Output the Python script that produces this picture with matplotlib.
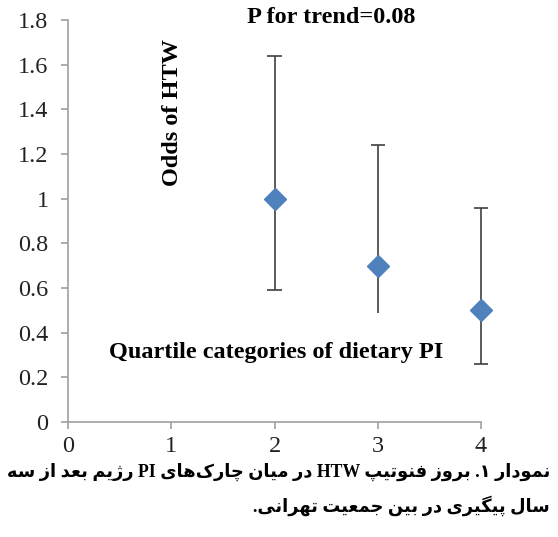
import matplotlib
matplotlib.use('Agg')
import matplotlib.pyplot as plt

# Data
quartiles = [2, 3, 4]
odds = [1.0, 0.7, 0.5]
ci_low = [0.59, 0.49, 0.26]
ci_high = [1.64, 1.24, 0.96]
x_ticks = [0, 1, 2, 3, 4]
y_ticks = [0, 0.2, 0.4, 0.6, 0.8, 1, 1.2, 1.4, 1.6, 1.8]
y_tick_labels = ['0', '0.2', '0.4', '0.6', '0.8', '1', '1.2', '1.4', '1.6', '1.8']

caption_lines = [
    'نمودار ۱. بروز فنوتیپ HTW در میان چارک‌های PI رژیم بعد از سه',
    'سال پیگیری در بین جمعیت تهرانی.',
]

# minimal Persian shaping (presentation forms) + right-to-left ordering
FORMS = {
    'ا': 'ﺍﺎ', 'د': 'ﺩﺪ', 'ر': 'ﺭﺮ', 'ز': 'ﺯﺰ', 'ژ': 'ﮊﮋ', 'و': 'ﻭﻮ',
    'ب': 'ﺏﺐﺑﺒ', 'پ': 'ﭖﭗﭘﭙ', 'ت': 'ﺕﺖﺗﺘ', 'ج': 'ﺝﺞﺟﺠ',
    'چ': 'ﭺﭻﭼﭽ', 'س': 'ﺱﺲﺳﺴ', 'ع': 'ﻉﻊﻋﻌ', 'ف': 'ﻑﻒﻓﻔ',
    'ک': 'ﮎﮏﮐﮑ', 'گ': 'ﮒﮓﮔﮕ', 'ل': 'ﻝﻞﻟﻠ', 'م': 'ﻡﻢﻣﻤ',
    'ن': 'ﻥﻦﻧﻨ', 'ه': 'ﻩﻪﻫﻬ', 'ی': 'ﯼﯽﯾﯿ',
}


def shape_rtl(text):
    out = []
    for i, ch in enumerate(text):
        if ch == '\u200c':
            continue
        if ch not in FORMS:
            out.append(ch)
            continue
        f = FORMS[ch]
        prev = text[i - 1] if i > 0 else ''
        nxt = text[i + 1] if i + 1 < len(text) else ''
        join_prev = prev in FORMS and len(FORMS[prev]) == 4
        join_next = len(f) == 4 and nxt in FORMS
        if join_prev and join_next:
            out.append(f[3])
        elif join_next:
            out.append(f[2])
        elif join_prev:
            out.append(f[1])
        else:
            out.append(f[0])
    s = ''.join(out)[::-1]
    # put latin runs back in left-to-right order
    res, run = '', ''
    for ch in s:
        if ch.isascii() and ch.isalpha():
            run += ch
        else:
            res += run[::-1] + ch
            run = ''
    return res + run[::-1]


fig = plt.figure(figsize=(5.58, 5.37), dpi=100, facecolor='white')
ax = fig.add_axes([0.1219, 0.2142, 0.7401, 0.7486])

axis_gray = '#a0a0a0'
bar_color = '#404040'
point_color = '#4F81BD'

# error bars (the lower cap of Q3 is missing in the original)
ax.errorbar(quartiles, odds,
            yerr=[[o - l for o, l in zip(odds, ci_low)],
                  [h - o for o, h in zip(odds, ci_high)]],
            fmt='none', ecolor=bar_color, elinewidth=1.2, capsize=0, zorder=2,
            clip_on=False)
ax.hlines(ci_high, [q - 0.07 for q in quartiles], [q + 0.07 for q in quartiles],
          color=bar_color, linewidth=1.2, zorder=2, clip_on=False)
low_caps = [0, 2]
ax.hlines([ci_low[i] for i in low_caps],
          [quartiles[i] - 0.07 for i in low_caps],
          [quartiles[i] + 0.07 for i in low_caps],
          color=bar_color, linewidth=1.2, zorder=2, clip_on=False)
ax.plot(quartiles, odds, linestyle='none', marker='D', markersize=11,
        color=point_color, markeredgecolor=point_color, zorder=3, clip_on=False)

ax.set_xlim(0, 4)
ax.set_ylim(0, 1.8)
ax.set_xticks(x_ticks)
ax.set_yticks(y_ticks)
ax.set_yticklabels(y_tick_labels)

for side in ['top', 'right']:
    ax.spines[side].set_visible(False)
for side in ['left', 'bottom']:
    ax.spines[side].set_color(axis_gray)
    ax.spines[side].set_linewidth(1.2)

ax.tick_params(axis='both', colors=axis_gray, width=1.2, length=5,
               labelcolor='#222222', labelsize=17.5)
ax.tick_params(axis='y', pad=9)
ax.tick_params(axis='x', pad=5)
for lbl in ax.get_xticklabels() + ax.get_yticklabels():
    lbl.set_family('Liberation Serif')

serif_bold = dict(family='Liberation Serif', fontweight='bold', fontsize=17.5,
                  color='black')
ax.text(0.637, 1.005, 'P for trend=0.08', transform=ax.transAxes,
        ha='center', va='center', **serif_bold)
ax.text(0.252, 0.771, 'Odds of HTW', transform=ax.transAxes, rotation=90,
        ha='center', va='center', **serif_bold)
ax.text(0.504, 0.174, 'Quartile categories of dietary PI', transform=ax.transAxes,
        ha='center', va='center', **serif_bold)

# Persian caption under the chart; size chosen so line 1 spans ~540 px
caps = []
for line, yy in zip(caption_lines, [0.122, 0.058]):
    caps.append(fig.text(0.986, yy, shape_rtl(line), ha='right', va='center',
                         family=['Liberation Serif', 'DejaVu Sans'],
                         fontweight='bold', fontsize=13, color='black'))
renderer = fig.canvas.get_renderer()
w1 = caps[0].get_window_extent(renderer).width
size = 13 * 540 / w1
for c in caps:
    c.set_fontsize(size)

fig.savefig('out.png', dpi=100, facecolor='white')
